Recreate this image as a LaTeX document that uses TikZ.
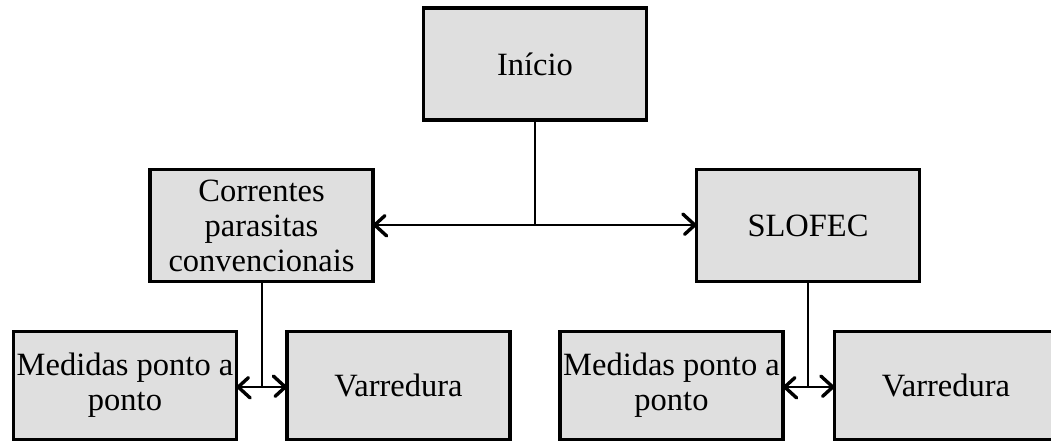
\documentclass[tikz,border=0pt]{standalone}
\usepackage{fontspec}
\setmainfont{Liberation Serif}
\usetikzlibrary{decorations.markings,shadows}
\tikzset{
  boxnode/.style={draw=black, line width=3.4pt, fill=gray!25, minimum width=223pt,
    minimum height=112pt, align=center, inner sep=0pt,
    font=\fontsize{32.5}{35}\selectfont,
    drop shadow={shadow xshift=1.8pt, shadow yshift=-1.8pt, opacity=0.4, fill=gray}},
  conn/.style={line width=1.4pt, draw=black},
  arr/.style={conn, shorten >=2.5pt, postaction={decorate},
    decoration={markings, mark=at position 1 with {
      \draw[line width=3.4pt, line cap=round, line join=round]
        (-12pt,11pt) -- (0pt,0pt) -- (-12pt,-11pt);}}}
}
\begin{document}
\begin{tikzpicture}[x=1pt,y=1pt]
\useasboundingbox (0,0) rectangle (1051,443);
\clip (0,0) rectangle (1051,443);
\fill[white] (0,0) rectangle (1051,443);
\node[boxnode] (inicio) at (535,379) {Início};
\node[boxnode] (corr) at (261.5,217.5) {Correntes\\parasitas\\convencionais};
\node[boxnode] (slofec) at (808,217.5) {SLOFEC};
\node[boxnode, minimum height=108pt] (med1) at (125,57.5) {Medidas ponto a\\ponto};
\node[boxnode, minimum height=108pt] (var1) at (398.5,57.5) {Varredura};
\node[boxnode, minimum height=108pt] (med2) at (671.5,57.5) {Medidas ponto a\\ponto};
\node[boxnode, minimum height=108pt] (var2) at (946,57.5) {Varredura};
\coordinate (j0) at (inicio.south |- 0,218);
\coordinate (j1) at (262,56);
\coordinate (j2) at (808,56);
\draw[conn] (inicio.south) -- (j0);
\draw[arr] (j0) -- (j0 -| corr.east);
\draw[arr] (j0) -- (j0 -| slofec.west);
\draw[conn] (corr.south -| j1) -- (j1);
\draw[arr] (j1) -- (j1 -| med1.east);
\draw[arr] (j1) -- (j1 -| var1.west);
\draw[conn] (slofec.south) -- (j2);
\draw[arr] (j2) -- (j2 -| med2.east);
\draw[arr] (j2) -- (j2 -| var2.west);
\end{tikzpicture}
\end{document}
